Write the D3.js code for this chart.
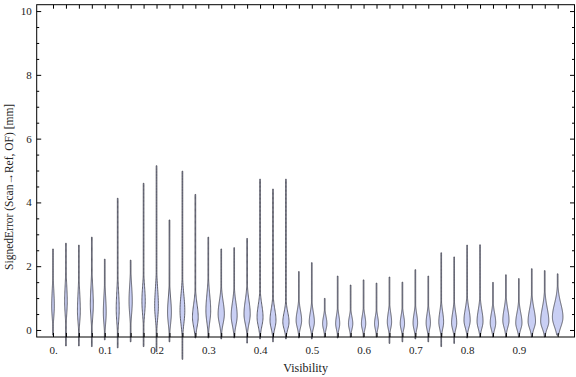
<!DOCTYPE html>
<html>
<head>
<meta charset="utf-8">
<script src="https://cdn.jsdelivr.net/npm/d3@7"></script>
<style>
  body { margin: 0; background: #fff; }
  svg text { font-family: "Liberation Serif", "Times New Roman", Tinos, "DejaVu Serif", "Noto Serif", serif !important; fill: #222; }
</style>
</head>
<body>
<div class="chart"></div>
<script>
// DATA ------------------------------------
const visibility = [0, 0.025, 0.05, 0.075, 0.1, 0.125, 0.15, 0.175, 0.2, 0.225,
  0.25, 0.275, 0.3, 0.325, 0.35, 0.375, 0.4, 0.425, 0.45, 0.475,
  0.5, 0.525, 0.55, 0.575, 0.6, 0.625, 0.65, 0.675, 0.7, 0.725,
  0.75, 0.775, 0.8, 0.825, 0.85, 0.875, 0.9, 0.925, 0.95, 0.975]
const errMax = [2.54, 2.72, 2.66, 2.91, 2.22, 4.13, 2.19, 4.6, 5.15, 3.45,
  4.98, 4.25, 2.91, 2.54, 2.58, 2.87, 4.73, 4.42, 4.73, 1.83,
  2.11, 0.99, 1.69, 1.41, 1.57, 1.47, 1.66, 1.5, 1.89, 1.69,
  2.42, 2.29, 2.66, 2.67, 1.49, 1.73, 1.61, 1.92, 1.86, 1.76]
const errMin = [-0.16, -0.5, -0.5, -0.52, -0.31, -0.56, -0.37, -0.52, -0.68, -0.37,
  -0.92, -0.25, -0.25, -0.28, -0.25, -0.41, -0.28, -0.37, -0.28, -0.25,
  -0.28, -0.22, -0.25, -0.22, -0.22, -0.22, -0.42, -0.37, -0.28, -0.37,
  -0.52, -0.42, -0.25, -0.22, -0.22, -0.22, -0.22, -0.22, -0.22, -0.16]
const errMode = [0.75, 0.9, 0.6, 0.8, 0.55, 0.65, 0.9, 0.9, 0.75, 0.55,
  0.6, 0.4, 0.6, 0.5, 0.45, 0.5, 0.4, 0.3, 0.25, 0.3,
  0.25, 0.2, 0.2, 0.2, 0.2, 0.2, 0.25, 0.2, 0.22, 0.22,
  0.25, 0.22, 0.3, 0.27, 0.22, 0.3, 0.22, 0.27, 0.27, 0.4]
const peakDensity = [0.22, 0.22, 0.24, 0.25, 0.24, 0.25, 0.27, 0.28, 0.31, 0.32,
  0.4, 0.48, 0.4, 0.52, 0.5, 0.52, 0.5, 0.5, 0.52, 0.46,
  0.43, 0.36, 0.34, 0.36, 0.36, 0.33, 0.36, 0.36, 0.38, 0.36,
  0.4, 0.43, 0.52, 0.5, 0.46, 0.52, 0.52, 0.62, 0.68, 0.88]
const spreadLow = [0.35, 0.4, 0.35, 0.4, 0.35, 0.4, 0.4, 0.4, 0.4, 0.35,
  0.4, 0.3, 0.35, 0.3, 0.3, 0.3, 0.28, 0.25, 0.22, 0.22,
  0.2, 0.18, 0.18, 0.18, 0.18, 0.18, 0.2, 0.18, 0.2, 0.2,
  0.22, 0.2, 0.22, 0.22, 0.2, 0.22, 0.2, 0.22, 0.22, 0.3]
const spreadHigh = [0.5, 0.5, 0.55, 0.55, 0.5, 0.55, 0.5, 0.45, 0.55, 0.45,
  0.5, 0.4, 0.5, 0.4, 0.4, 0.42, 0.38, 0.35, 0.3, 0.3,
  0.3, 0.22, 0.25, 0.22, 0.25, 0.22, 0.28, 0.25, 0.28, 0.28,
  0.32, 0.32, 0.35, 0.35, 0.3, 0.35, 0.32, 0.38, 0.42, 0.42]
const xLabelValues = [0, 0.1, 0.2, 0.3, 0.4, 0.5, 0.6, 0.7, 0.8, 0.9]
const xLabels = ["0.", "0.1", "0.2", "0.3", "0.4", "0.5", "0.6", "0.7", "0.8", "0.9"]
const yMajor = [0, 2, 4, 6, 8, 10]

// CHART INIT ------------------------------
const W = 576, H = 377
const frame = ({left: 36.7, right: 574.5, top: 4.7, bottom: 337})

const svg = d3.select(".chart")
  .append("svg")
  .attr("width", W)
  .attr("height", H)

let xScale = d3.scaleLinear()
  .domain([-0.0315, 1.0075])
  .range([frame.left, frame.right])
let yScale = d3.scaleLinear()
  .domain([-0.22, 10.2])
  .range([frame.bottom, frame.top])
// density -> half width in px
let wScale = d3.scaleLinear()
  .domain([0, 1])
  .range([0, 6])

const yMinor = d3.range(0, 10.01, 0.5).filter(v => v % 2 !== 0)

// VIOLINS ---------------------------------
const violins = visibility.map((v, i) => ({
  x: v, lo: errMin[i], hi: errMax[i], mode: errMode[i],
  peak: peakDensity[i], sLo: spreadLow[i], sHi: spreadHigh[i]
}))

function shape(d) {
  const n = 120
  return d3.range(n + 1).map(k => {
    const e = d.lo + (d.hi - d.lo) * k / n
    const s = e < d.mode ? d.sLo : d.sHi
    const dens = d.peak * Math.exp(-0.5 * ((e - d.mode) / s) ** 2)
    return {e: e, w: Math.max(wScale(dens), 0.35)}
  })
}

svg.append("g")
  .attr("class", "violins")
  .selectAll("path")
  .data(violins)
  .join("path")
  .attr("d", d => {
    const cx = xScale(d.x)
    return d3.area()
      .y(p => yScale(p.e))
      .x0(p => cx - p.w)
      .x1(p => cx + p.w)
      .curve(d3.curveBasis)(shape(d))
  })
  .attr("fill", "#c9cff4")
  .attr("stroke", "#3e3e48")
  .attr("stroke-width", 0.8)

// FRAME / AXES ----------------------------
const fmt = v => {
  const i = xLabelValues.findIndex(t => Math.abs(t - v) < 1e-9)
  return i >= 0 ? xLabels[i] : ""
}

svg.append("g")
  .attr("transform", `translate(0,${frame.bottom})`)
  .call(d3.axisBottom(xScale).tickValues(visibility).tickFormat(fmt)
    .tickSizeInner(-4).tickSizeOuter(0).tickPadding(9))
svg.append("g")
  .attr("transform", `translate(0,${frame.top})`)
  .call(d3.axisTop(xScale).tickValues(visibility).tickFormat("")
    .tickSizeInner(-4).tickSizeOuter(0))

svg.append("g")
  .attr("transform", `translate(${frame.left},0)`)
  .call(d3.axisLeft(yScale).tickValues(yMajor).tickFormat(d3.format("d"))
    .tickSizeInner(-4.5).tickSizeOuter(0).tickPadding(5))
svg.append("g")
  .attr("transform", `translate(${frame.left},0)`)
  .call(d3.axisLeft(yScale).tickValues(yMinor).tickFormat("")
    .tickSizeInner(-2.5).tickSizeOuter(0))
svg.append("g")
  .attr("transform", `translate(${frame.right},0)`)
  .call(d3.axisRight(yScale).tickValues(yMajor).tickFormat("")
    .tickSizeInner(-4.5).tickSizeOuter(0))
svg.append("g")
  .attr("transform", `translate(${frame.right},0)`)
  .call(d3.axisRight(yScale).tickValues(yMinor).tickFormat("")
    .tickSizeInner(-2.5).tickSizeOuter(0))

svg.selectAll(".domain").remove()
svg.selectAll("g").attr("font-family", null)
svg.selectAll(".tick line").attr("stroke", "#000").attr("stroke-width", 1)
svg.selectAll(".tick text")
  .style("font-size", "11px")
  .attr("fill", "#222")

svg.append("rect")
  .attr("x", frame.left)
  .attr("y", frame.top)
  .attr("width", frame.right - frame.left)
  .attr("height", frame.bottom - frame.top)
  .attr("fill", "none")
  .attr("stroke", "#000")
  .attr("stroke-width", 1)

// TITLES ----------------------------------
svg.append("text")
  .attr("x", (frame.left + frame.right) / 2)
  .attr("y", 372)
  .attr("text-anchor", "middle")
  .style("font-size", "12px")
  .text("Visibility")

svg.append("text")
  .attr("transform", `translate(13,${(frame.top + frame.bottom) / 2 + 16}) rotate(-90)`)
  .attr("text-anchor", "middle")
  .style("font-size", "11.5px")
  .text("SignedError (Scan\u2192Ref, OF) [mm]")
</script>
</body>
</html>
